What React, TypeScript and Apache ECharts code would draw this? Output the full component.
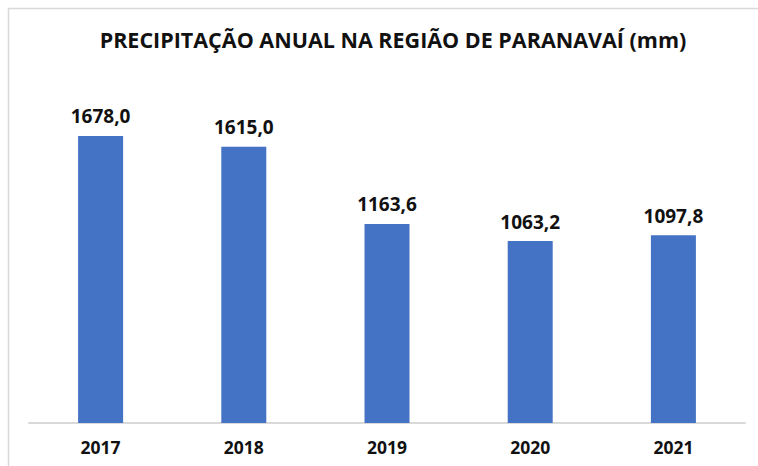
import React, { useEffect, useRef } from "react";
import * as echarts from "echarts";

const categories = ["2017", "2018", "2019", "2020", "2021"];
const values = [1678.0, 1615.0, 1163.6, 1063.2, 1097.8];
const titleText = "PRECIPITAÇÃO ANUAL NA REGIÃO DE PARANAVAÍ (mm)";

export default function App() {
  const ref = useRef<HTMLDivElement>(null);
  useEffect(() => {
    if (!ref.current) return;
    const chart = echarts.init(ref.current, undefined, { renderer: "svg" });
    chart.setOption({
      animation: false,
      backgroundColor: "#ffffff",
      textStyle: { fontFamily: "Open Sans" },
      title: {
        text: titleText,
        left: 388,
        top: 23,
        textAlign: "center",
        textStyle: { fontSize: 21.5, fontWeight: "bold", color: "#111111", fontFamily: "Open Sans" },
      },
      graphic: [
        {
          type: "rect",
          shape: { x: 8.5, y: 8.5, width: 800, height: 500 },
          style: { fill: "none", stroke: "#d9d9d9", lineWidth: 1.5 },
          silent: true,
        },
      ],
      grid: { left: 29, right: 13, top: 115, bottom: 43, containLabel: false },
      xAxis: {
        type: "category",
        data: categories,
        axisLine: { show: true, lineStyle: { color: "#d9d9d9", width: 2 } },
        axisTick: { show: false },
        axisLabel: { fontSize: 17.5, fontWeight: "bold", color: "#111111", margin: 15, fontFamily: "Open Sans" },
      },
      yAxis: {
        type: "value",
        min: 0,
        max: 1800,
        show: false,
        splitLine: { show: false },
      },
      series: [
        {
          type: "bar",
          data: values,
          barWidth: 45,
          itemStyle: { color: "#4472c4" },
          label: {
            show: true,
            position: "top",
            distance: 10,
            fontSize: 19,
            fontWeight: "bold",
            color: "#111111",
            fontFamily: "Open Sans",
            formatter: (p: any) => Number(p.value).toFixed(1).replace(".", ","),
          },
        },
      ],
    });
    return () => chart.dispose();
  }, []);
  return (
    <div
      ref={ref}
      style={{ position: "fixed", left: 0, top: 0, width: 758, height: 466 }}
    />
  );
}
